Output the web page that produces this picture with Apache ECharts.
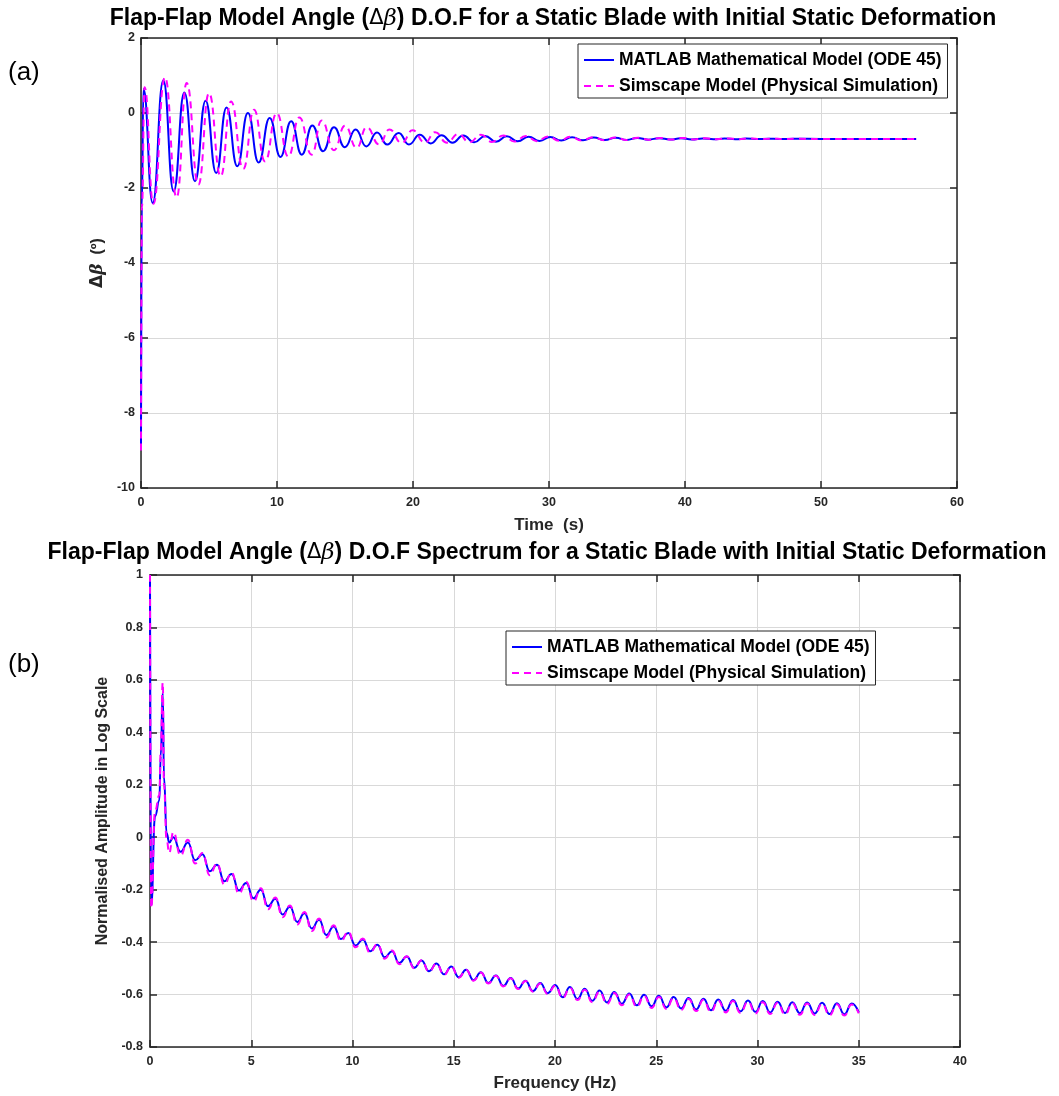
<!DOCTYPE html>
<html>
<head>
<meta charset="utf-8">
<script src="https://cdn.jsdelivr.net/npm/echarts@6/dist/echarts.min.js"></script>
<style>
  html, body { margin: 0; padding: 0; background: #fff; }
  #chart { width: 1059px; height: 1096px; }
</style>
</head>
<body>
<div id="chart"></div>
<script>
// ---- (a) time response: flap angle Δβ in degrees (peaks / troughs of the decaying oscillation)
const timeMatlab = [0, 0.06, 0.18, 0.86,
  1.64, 2.4, 3.19, 3.97, 4.75, 5.53, 6.29, 7.08, 7.86, 8.65,
  9.46, 10.25, 11.04, 11.82, 12.6, 13.38, 14.19, 14.99, 15.78, 16.57,
  17.35, 18.1, 18.95, 19.7, 20.5, 21.3, 22.1, 22.9, 23.7, 24.5,
  25.3, 26.1, 26.9, 27.7, 28.5, 29.3, 30.1, 30.9, 31.7, 32.5,
  33.3, 34.1, 34.9, 35.7, 36.5, 37.3, 38.1, 38.9, 39.7, 40.5,
  41.3, 42.1, 42.9, 43.7, 44.5, 45.3, 46.1, 46.9,
  48, 50, 53, 57];
const angleMatlab = [-8.85, -2.5, 0.64, -2.4,
  0.87, -2.09, 0.55, -1.82, 0.33, -1.6, 0.15, -1.42, 0.0, -1.32,
  -0.13, -1.17, -0.22, -1.11, -0.33, -1.02, -0.38, -0.91, -0.44, -0.89,
  -0.52, -0.84, -0.53, -0.84, -0.58, -0.81, -0.59, -0.79, -0.6, -0.78,
  -0.61, -0.765, -0.62, -0.755, -0.63, -0.745, -0.64, -0.735, -0.648, -0.728,
  -0.655, -0.722, -0.66, -0.717, -0.665, -0.712, -0.67, -0.708, -0.674, -0.704,
  -0.677, -0.701, -0.68, -0.698, -0.683, -0.696, -0.686, -0.693,
  -0.689, -0.69, -0.69, -0.69];

const timeSimscape = [0, 0.07, 0.26, 0.91,
  1.76, 2.62, 3.36, 4.22, 5.0, 5.86, 6.62, 7.52, 8.31, 9.12,
  9.98, 10.83, 11.64, 12.55, 13.28, 14.19, 15.0, 15.86, 16.59, 17.52,
  18.26, 19.17, 19.97, 20.88, 21.62, 22.5, 23.33, 24.15, 25.0, 25.8,
  26.65, 27.45, 28.3, 29.1, 29.95, 30.75, 31.6, 32.4, 33.25, 34.05,
  34.9, 35.7, 36.55, 37.35, 38.2, 39.0, 39.85, 40.65, 41.5, 42.3,
  43.15, 43.95, 44.8, 45.6, 46.45, 47.25, 48.1, 48.9,
  50, 53, 57];
const angleSimscape = [-9.0, -2.5, 0.69, -2.42,
  0.95, -2.25, 0.8, -1.91, 0.53, -1.69, 0.31, -1.49, 0.09, -1.29,
  0.0, -1.16, -0.12, -1.11, -0.2, -0.99, -0.34, -0.93, -0.38, -0.84,
  -0.44, -0.8, -0.46, -0.79, -0.51, -0.79, -0.56, -0.78, -0.58, -0.77,
  -0.6, -0.76, -0.615, -0.75, -0.625, -0.74, -0.635, -0.733, -0.645, -0.726,
  -0.652, -0.72, -0.658, -0.714, -0.664, -0.709, -0.669, -0.705, -0.673, -0.702,
  -0.677, -0.699, -0.68, -0.697, -0.683, -0.695, -0.686, -0.693,
  -0.69, -0.69, -0.69];

// ---- (b) spectrum: normalised amplitude (log scale) against frequency in Hz
const freq = [0, 0.06, 0.25, 0.46, 0.53, 0.63, 0.69, 0.82, 0.95,
  1.15, 1.51, 1.87, 2.23, 2.59, 2.95, 3.31, 3.67, 4.03, 4.39,
  4.75, 5.11, 5.47, 5.83, 6.19, 6.55, 6.91, 7.27, 7.63, 7.99,
  8.35, 8.71, 9.07, 9.43, 9.79, 10.15, 10.51, 10.87, 11.23, 11.59,
  11.95, 12.31, 12.68, 13.05, 13.41, 13.78, 14.15, 14.52, 14.88, 15.25,
  15.61, 15.98, 16.34, 16.71, 17.08, 17.45, 17.81, 18.18, 18.54, 18.91,
  19.27, 19.64, 20.01, 20.38, 20.74, 21.11, 21.47, 21.84, 22.20, 22.57,
  22.93, 23.30, 23.67, 24.04, 24.40, 24.77, 25.13, 25.50, 25.86, 26.23,
  26.60, 26.97, 27.33, 27.70, 28.06, 28.43, 28.79, 29.16, 29.53, 29.90,
  30.26, 30.63, 30.99, 31.36, 31.72, 32.09, 32.45, 32.82, 33.19, 33.56,
  33.92, 34.29, 34.65, 35.0];
const ampMatlab = [1.0, -0.26, 0.08, 0.14, 0.31, 0.55, 0.23, 0.016, -0.02,
  0.0, -0.055, -0.02, -0.088, -0.065, -0.13, -0.105, -0.168, -0.14, -0.203,
  -0.175, -0.233, -0.2, -0.263, -0.235, -0.295, -0.265, -0.323, -0.29, -0.348,
  -0.315, -0.373, -0.34, -0.388, -0.365, -0.413, -0.39, -0.435, -0.41, -0.458,
  -0.435, -0.48, -0.455, -0.498, -0.47, -0.511, -0.482, -0.523, -0.493, -0.534,
  -0.505, -0.545, -0.515, -0.556, -0.527, -0.567, -0.537, -0.577, -0.547, -0.587,
  -0.556, -0.595, -0.564, -0.61, -0.571, -0.617, -0.578, -0.624, -0.585, -0.63,
  -0.59, -0.635, -0.596, -0.641, -0.601, -0.645, -0.605, -0.649, -0.609, -0.653,
  -0.613, -0.657, -0.616, -0.66, -0.619, -0.662, -0.621, -0.664, -0.623, -0.666,
  -0.625, -0.668, -0.627, -0.67, -0.629, -0.671, -0.63, -0.672, -0.631, -0.674,
  -0.633, -0.675, -0.634, -0.668];
const ampSimscape = [1.0, -0.27, 0.1, 0.16, 0.33, 0.59, 0.2, -0.01, -0.06,
  0.02, -0.07, -0.01, -0.1, -0.06, -0.145, -0.1, -0.18, -0.135, -0.215,
  -0.17, -0.245, -0.195, -0.275, -0.23, -0.305, -0.26, -0.333, -0.285, -0.358,
  -0.31, -0.382, -0.336, -0.396, -0.36, -0.42, -0.386, -0.441, -0.407, -0.463,
  -0.432, -0.484, -0.454, -0.5, -0.469, -0.513, -0.482, -0.525, -0.493, -0.536,
  -0.505, -0.547, -0.516, -0.558, -0.528, -0.569, -0.538, -0.579, -0.548, -0.589,
  -0.558, -0.598, -0.566, -0.613, -0.574, -0.621, -0.582, -0.629, -0.589, -0.636,
  -0.594, -0.641, -0.6, -0.647, -0.605, -0.651, -0.609, -0.655, -0.613, -0.659,
  -0.617, -0.663, -0.62, -0.666, -0.623, -0.668, -0.625, -0.67, -0.627, -0.672,
  -0.629, -0.674, -0.631, -0.676, -0.633, -0.677, -0.634, -0.678, -0.635, -0.679,
  -0.637, -0.68, -0.638, -0.672];

const NAME_ODE = 'MATLAB Mathematical Model (ODE 45)';
const NAME_SIM = 'Simscape Model (Physical Simulation)';

const FONT = '"Liberation Sans", Arial, Helvetica, sans-serif';
const INK = '#262626';
const GRID_LINE = '#d9d9d9';
const BLUE = '#0000ff';
const MAGENTA = '#ff00ff';

const pairs = (xs, ys) => xs.map((x, i) => [x, ys[i]]);

const tickLabel = { fontFamily: FONT, fontSize: 12.5, fontWeight: 'bold', color: INK };
const axisNameStyle = { fontFamily: FONT, fontSize: 17, fontWeight: 'bold', color: INK };

// main (labelled) axis
function mainAxis(extra) {
  return Object.assign({
    type: 'value',
    axisLine: { show: true, onZero: false, lineStyle: { color: INK, width: 1.5 } },
    axisTick: { show: true, inside: true, length: 7, lineStyle: { color: INK, width: 1.5 } },
    axisLabel: Object.assign({ margin: 8 }, tickLabel),
    splitLine: { show: true, lineStyle: { color: GRID_LINE, width: 1 } },
    nameLocation: 'middle',
    nameTextStyle: axisNameStyle
  }, extra);
}
// mirror axis closing the box (ticks only, no labels)
function boxAxis(extra) {
  return Object.assign({
    type: 'value',
    axisLine: { show: true, onZero: false, lineStyle: { color: INK, width: 1.5 } },
    axisTick: { show: true, inside: true, length: 7, lineStyle: { color: INK, width: 1.5 } },
    axisLabel: { show: false },
    splitLine: { show: false }
  }, extra);
}

function lineSeries(name, xi, yi, data, color, dashed, z) {
  return {
    name, type: 'line', xAxisIndex: xi, yAxisIndex: yi, data,
    symbol: 'none', showSymbol: false,
    smooth: 0.5, smoothMonotone: 'x',
    lineStyle: { color, width: 2, type: dashed ? [7, 5] : 'solid' },
    itemStyle: { color },
    z
  };
}

// legend keys show only the line sample, no marker
function legendAt(left, top) {
  return {
    orient: 'vertical', left, top,
    data: [NAME_ODE, NAME_SIM],
    itemWidth: 30, itemHeight: 14, itemGap: 8,
    padding: [7, 6, 3, 5],
    itemStyle: { opacity: 0, borderWidth: 0 },
    borderColor: INK, borderWidth: 1, backgroundColor: '#fff',
    selectedMode: false,
    textStyle: { fontFamily: FONT, fontSize: 17.5, fontWeight: 'bold', color: '#000' }
  };
}

const titleRich = {
  b: { fontFamily: FONT, fontSize: 23, fontWeight: 'bold', fill: '#000', color: '#000' },
  d: { fontFamily: 'DejaVu Sans, sans-serif', fontSize: 21, fill: '#000', color: '#000' },
  i: { fontFamily: 'DejaVu Serif, serif', fontSize: 23, fontStyle: 'italic', fill: '#000', color: '#000' }
};

const chart = echarts.init(document.getElementById('chart'), null, { renderer: 'canvas' });

chart.setOption({
  animation: false,
  backgroundColor: '#fff',
  grid: [
    { left: 141, top: 38, width: 816, height: 450 },
    { left: 150, top: 575, width: 810, height: 472 }
  ],
  xAxis: [
    mainAxis({ gridIndex: 0, position: 'bottom', min: 0, max: 60, interval: 10, name: 'Time  (s)', nameGap: 29 }),
    boxAxis({ gridIndex: 0, position: 'top', min: 0, max: 60, interval: 10 }),
    mainAxis({ gridIndex: 1, position: 'bottom', min: 0, max: 40, interval: 5, name: 'Frequency (Hz)', nameGap: 28 }),
    boxAxis({ gridIndex: 1, position: 'top', min: 0, max: 40, interval: 5 })
  ],
  yAxis: [
    mainAxis({
      gridIndex: 0, position: 'left', min: -10, max: 2, interval: 2,
      axisLabel: Object.assign({ margin: 6 }, tickLabel),
      name: '{d|Δ}{i|β}{b|  (º)}', nameGap: 32,
      nameTextStyle: Object.assign({}, axisNameStyle, {
        rich: {
          d: { fontFamily: 'DejaVu Sans, sans-serif', fontSize: 17, fontWeight: 'bold', color: INK },
          i: { fontFamily: 'DejaVu Serif, serif', fontSize: 17, fontStyle: 'italic', color: INK },
          b: { fontFamily: FONT, fontSize: 16, fontWeight: 'bold', color: INK }
        }
      })
    }),
    boxAxis({ gridIndex: 0, position: 'right', min: -10, max: 2, interval: 2 }),
    mainAxis({
      gridIndex: 1, position: 'left', min: -0.8, max: 1, interval: 0.2,
      axisLabel: Object.assign({ margin: 7 }, tickLabel),
      name: 'Normalised Amplitude in Log Scale', nameGap: 31,
      nameTextStyle: Object.assign({}, axisNameStyle, { fontSize: 16 })
    }),
    boxAxis({ gridIndex: 1, position: 'right', min: -0.8, max: 1, interval: 0.2 })
  ],
  legend: [legendAt(578, 44), legendAt(506, 631)],
  series: [
    lineSeries(NAME_ODE, 0, 0, pairs(timeMatlab, angleMatlab), BLUE, false, 2),
    lineSeries(NAME_SIM, 0, 0, pairs(timeSimscape, angleSimscape), MAGENTA, true, 3),
    lineSeries(NAME_ODE, 2, 2, pairs(freq, ampMatlab), BLUE, false, 2),
    lineSeries(NAME_SIM, 2, 2, pairs(freq, ampSimscape), MAGENTA, true, 3)
  ],
  graphic: [
    {
      type: 'text', x: 553, y: 19, silent: true,
      style: {
        text: '{b|Flap-Flap Model Angle (}{d|Δ}{i|β}{b|) D.O.F for a Static Blade with Initial Static Deformation}',
        rich: titleRich, align: 'center', verticalAlign: 'middle'
      }
    },
    {
      type: 'text', x: 547, y: 553, silent: true,
      style: {
        text: '{b|Flap-Flap Model Angle (}{d|Δ}{i|β}{b|) D.O.F Spectrum for a Static Blade with Initial Static Deformation}',
        rich: titleRich, align: 'center', verticalAlign: 'middle'
      }
    },
    {
      type: 'text', x: 8, y: 73, silent: true,
      style: { text: '(a)', font: '26px "Liberation Sans", Arial, sans-serif', fill: '#000', align: 'left', verticalAlign: 'middle' }
    },
    {
      type: 'text', x: 8, y: 665, silent: true,
      style: { text: '(b)', font: '26px "Liberation Sans", Arial, sans-serif', fill: '#000', align: 'left', verticalAlign: 'middle' }
    }
  ]
});
</script>
</body>
</html>
